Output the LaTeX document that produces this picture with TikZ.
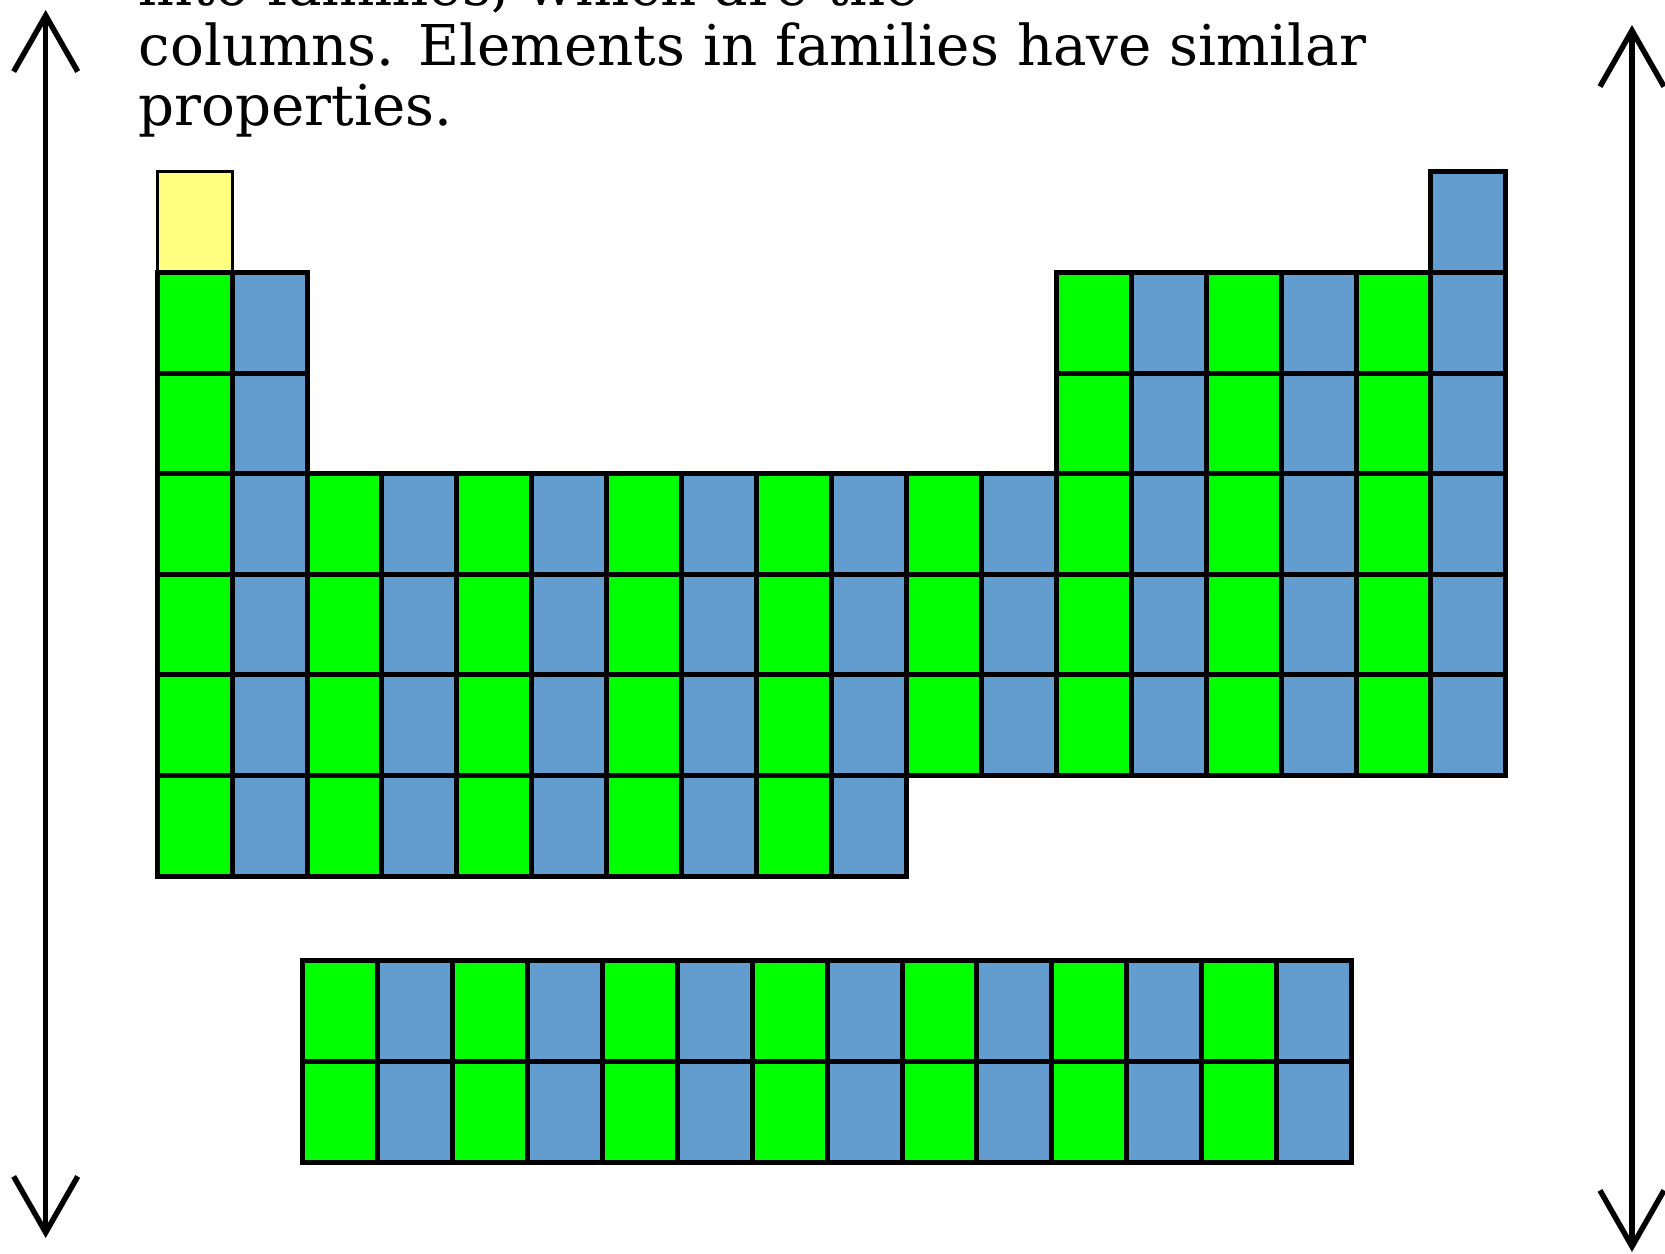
\documentclass[tikz,border=0pt]{standalone}
\usepackage{fontspec}
\setmainfont{DejaVu Serif}
\usetikzlibrary{arrows.meta}
\definecolor{famgreen}{RGB}{0,255,0}
\definecolor{famblue}{RGB}{99,157,208}
\definecolor{hydyellow}{RGB}{255,255,128}
\tikzset{
  cell/.style={draw, line width=0.05cm, minimum width=0.7493cm, minimum height=1.006cm, inner sep=0pt, outer sep=0pt},
  txt/.style={anchor=base west, inner sep=0pt, font=\fontsize{16}{19}\selectfont},
  span/.style={line width=0.055cm, {Straight Barb[length=0.56cm,width=0.64cm]}-{Straight Barb[length=0.56cm,width=0.64cm]}}
}

\begin{document}
\begin{tikzpicture}[x=0.01cm, y=-0.01cm]
    \useasboundingbox (0,0) rectangle (1665,1254);
    % Text above the table
    \node[txt] (line1) at (138,5) {into families, which are the};
    \node[txt] (line2) at (138,65) {columns. Elements in families have similar};
    \node[txt] (line3) at (138,125) {properties.};
    % First row: hydrogen and helium
    \node[cell, fill=hydyellow, line width=0.03cm] (cell-1-1) at ({157.2+0.5*74.93},{172+0.5*100.6}) {};
    \node[cell, fill=famblue] (cell-1-18) at ({157.2+17.5*74.93},{172+0.5*100.6}) {};
    % Main table, odd columns green, even columns blue
    \foreach \r/\cl in {2/{1,2,13,14,15,16,17,18}, 3/{1,2,13,14,15,16,17,18},
                        4/{1,...,18}, 5/{1,...,18}, 6/{1,...,18}, 7/{1,...,10}}{
      \foreach \c in \cl{
        \ifodd\c \def\fc{famgreen}\else\def\fc{famblue}\fi
        \node[cell, fill=\fc] (cell-\r-\c) at ({157.2+(\c-0.5)*74.93},{172+(\r-0.5)*100.6}) {};
      }
    }
    % Lower block
    \foreach \r in {1,2}{
      \foreach \c in {1,...,14}{
        \ifodd\c \def\fc{famgreen}\else\def\fc{famblue}\fi
        \node[cell, fill=\fc] (low-\r-\c) at ({302.6+(\c-0.5)*74.93},{961+(\r-0.5)*100.6}) {};
      }
    }
    % Arrows on both sides
    \coordinate (ltop) at (45.7,10);
    \coordinate (lbot) at (45.7,1238);
    \coordinate (rtop) at (1632,25);
    \coordinate (rbot) at (1632,1252);
    \draw[span] (ltop) -- (lbot);
    \draw[span] (rtop) -- (rbot);
\end{tikzpicture}
\end{document}
